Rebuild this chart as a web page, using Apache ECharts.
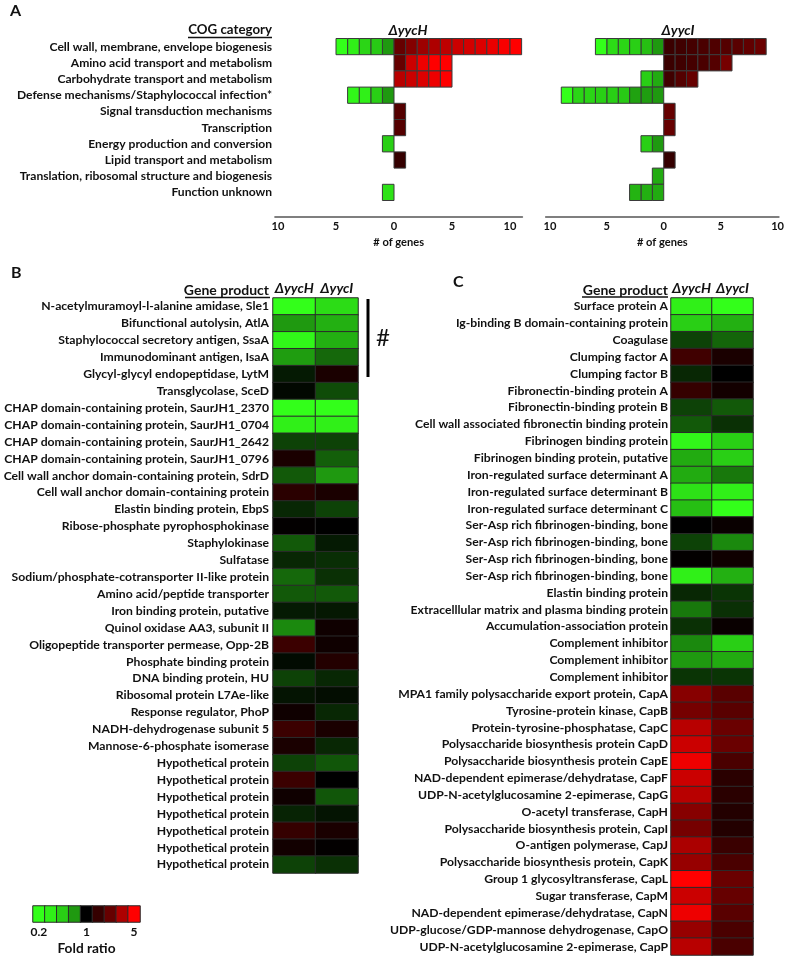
<!DOCTYPE html>
<html>
<head>
<meta charset="utf-8">
<script src="https://cdn.jsdelivr.net/npm/echarts@6/dist/echarts.min.js"></script>
<style>html,body{margin:0;padding:0;background:#fff;}#c{width:787px;height:957px;}</style>
</head>
<body>
<div id="c"></div>
<script>
// ---------- Panel A: COG categories ----------
const cogCategories = [
  'Cell wall, membrane, envelope biogenesis',
  'Amino acid transport and metabolism',
  'Carbohydrate transport and metabolism',
  'Defense mechanisms/Staphylococcal infection*',
  'Signal transduction mechanisms',
  'Transcription',
  'Energy production and conversion',
  'Lipid transport and metabolism',
  'Translation, ribosomal structure and biogenesis',
  'Function unknown'
];
// fold ratio of each gene, ordered from 0 outward
const yycH_down = [[0.38,0.28,0.26,0.22,0.2],[],[],[0.38,0.27,0.22,0.21],[],[],[0.27],[],[],[0.24]];
const yycH_up = [[1.9,2.3,2.7,3.0,3.3,3.6,3.8,4.0,4.4,4.8,5],[1.9,3.6,4.5,5,5],[3.2,3.6,4.0,4.5,5],[],[1.7],[1.7],[],[1.4],[],[]];
const yycI_down = [[0.38,0.3,0.27,0.26,0.25,0.2],[],[0.34,0.27],[0.38,0.37,0.36,0.28,0.27,0.27,0.26,0.26,0.2],[],[],[0.38,0.27],[],[0.34],[0.34,0.33,0.32]];
const yycI_up = [[1.45,1.5,1.55,1.6,1.65,1.7,1.75,1.85,1.95],[1.45,1.5,1.55,1.6,1.7,2.1],[1.5,1.7,1.9],[],[1.9],[1.9],[],[1.4],[],[]];
const geneTicks = [-10,-5,0,5,10];

// ---------- Panel B ----------
const geneB = [
  'N-acetylmuramoyl-l-alanine amidase, Sle1',
  'Bifunctional autolysin, AtlA',
  'Staphylococcal secretory antigen, SsaA',
  'Immunodominant antigen, IsaA',
  'Glycyl-glycyl endopeptidase, LytM',
  'Transglycolase, SceD',
  'CHAP domain-containing protein, SaurJH1_2370',
  'CHAP domain-containing protein, SaurJH1_0704',
  'CHAP domain-containing protein, SaurJH1_2642',
  'CHAP domain-containing protein, SaurJH1_0796',
  'Cell wall anchor domain-containing protein, SdrD',
  'Cell wall anchor domain-containing protein',
  'Elastin binding protein, EbpS',
  'Ribose-phosphate pyrophosphokinase',
  'Staphylokinase',
  'Sulfatase',
  'Sodium/phosphate-cotransporter II-like protein',
  'Amino acid/peptide transporter',
  'Iron binding protein, putative',
  'Quinol oxidase AA3, subunit II',
  'Oligopeptide transporter permease, Opp-2B',
  'Phosphate binding protein',
  'DNA binding protein, HU',
  'Ribosomal protein L7Ae-like',
  'Response regulator, PhoP',
  'NADH-dehydrogenase subunit 5',
  'Mannose-6-phosphate isomerase',
  'Hypothetical protein','Hypothetical protein','Hypothetical protein','Hypothetical protein',
  'Hypothetical protein','Hypothetical protein','Hypothetical protein'
];
const foldB_yycH = [0.2,0.38,0.21,0.37,0.85,0.95,0.2,0.22,0.66,1.18,0.57,1.3,0.78,1.02,0.57,0.78,0.52,0.57,0.85,0.42,1.45,0.93,0.66,0.88,1.1,1.45,1.18,0.66,1.45,1.1,0.8,1.4,1.12,0.66];
const foldB_yycI = [0.25,0.33,0.33,0.52,1.18,0.62,0.2,0.22,0.66,0.55,0.38,1.18,0.66,1.0,0.85,0.75,0.74,0.57,0.86,1.1,1.1,1.25,0.78,0.92,0.78,1.18,0.78,0.58,1.0,0.58,0.88,1.18,1.02,0.74];

// ---------- Panel C ----------
const geneC = [
  'Surface protein A',
  'Ig-binding B domain-containing protein',
  'Coagulase',
  'Clumping factor A',
  'Clumping factor B',
  'Fibronectin-binding protein A',
  'Fibronectin-binding protein B',
  'Cell wall associated fibronectin binding protein',
  'Fibrinogen binding protein',
  'Fibrinogen binding protein, putative',
  'Iron-regulated surface determinant A',
  'Iron-regulated surface determinant B',
  'Iron-regulated surface determinant C',
  'Ser-Asp rich fibrinogen-binding, bone',
  'Ser-Asp rich fibrinogen-binding, bone',
  'Ser-Asp rich fibrinogen-binding, bone',
  'Ser-Asp rich fibrinogen-binding, bone',
  'Elastin binding protein',
  'Extracelllular matrix and plasma binding protein',
  'Accumulation-association protein',
  'Complement inhibitor','Complement inhibitor','Complement inhibitor',
  'MPA1 family polysaccharide export protein, CapA',
  'Tyrosine-protein kinase, CapB',
  'Protein-tyrosine-phosphatase, CapC',
  'Polysaccharide biosynthesis protein CapD',
  'Polysaccharide biosynthesis protein CapE',
  'NAD-dependent epimerase/dehydratase, CapF',
  'UDP-N-acetylglucosamine 2-epimerase, CapG',
  'O-acetyl transferase, CapH',
  'Polysaccharide biosynthesis protein, CapI',
  'O-antigen polymerase, CapJ',
  'Polysaccharide biosynthesis protein, CapK',
  'Group 1 glycosyltransferase, CapL',
  'Sugar transferase, CapM',
  'NAD-dependent epimerase/dehydratase, CapN',
  'UDP-glucose/GDP-mannose dehydrogenase, CapO',
  'UDP-N-acetylglucosamine 2-epimerase, CapP'
];
const foldC_yycH = [0.22,0.27,0.66,1.5,0.78,1.4,0.66,0.57,0.21,0.34,0.34,0.24,0.3,1.0,0.66,1.02,0.22,0.78,0.47,0.74,0.42,0.38,0.72,2.35,2.1,3.2,3.6,4.5,3.6,3.2,2.35,2.1,2.95,2.6,5,3.6,4.5,2.6,3.2];
const foldC_yycI = [0.2,0.33,0.53,1.18,1.0,1.13,0.57,0.74,0.27,0.27,0.47,0.22,0.2,1.06,0.42,1.1,0.33,0.72,0.74,1.06,0.27,0.34,0.72,1.75,1.75,1.95,1.95,1.6,1.3,1.3,1.25,1.25,1.44,1.6,1.95,1.9,1.75,1.6,1.6];

// ---------- Colour legend ----------
const legendFolds = [0.2,0.22,0.27,0.38,1,1.4,1.9,3,5];
const legendLabels = ['0.2','','','','1','','','','5'];
const strains = ['ΔyycH','ΔyycI'];

// ---------- helpers: font sizes fitted to the widths of the original labels ----------
const FONT = 'Lato';
const TXT = '#111';
const mctx = document.createElement('canvas').getContext('2d');
function fitOne(text, target, style) {
  mctx.font = (style || 'bold') + ' 100px ' + FONT;
  return 100 * target / mctx.measureText(text).width;
}
function fitAvg(pairs, style) {
  let s = 0;
  pairs.forEach(p => { s += fitOne(p[0], p[1], style); });
  return Math.round(s / pairs.length * 10) / 10;
}
const fsB = fitAvg([
  ['Cell wall anchor domain-containing protein, SdrD', 265],
  ['N-acetylmuramoyl-l-alanine amidase, Sle1', 229],
  ['Sodium/phosphate-cotransporter II-like protein', 259],
  ['Hypothetical protein', 111],
  ['Elastin binding protein, EbpS', 155]
]);
const fsC = fitAvg([
  ['Cell wall associated fibronectin binding protein', 255],
  ['Ig-binding B domain-containing protein', 213],
  ['Extracelllular matrix and plasma binding protein', 262],
  ['NAD-dependent epimerase/dehydratase, CapF', 255],
  ['Polysaccharide biosynthesis protein CapD', 226],
  ['Group 1 glycosyltransferase, CapL', 183],
  ['MPA1 family polysaccharide export protein, CapA', 270],
  ['UDP-glucose/GDP-mannose dehydrogenase, CapO', 273]
]);
const fsA = Math.min(
  fitAvg([
    ['Translation, ribosomal structure and biogenesis', 253],
    ['Cell wall, membrane, envelope biogenesis', 224],
    ['Amino acid transport and metabolism', 201],
    ['Carbohydrate transport and metabolism', 216],
    ['Signal transduction mechanisms', 171],
    ['Lipid transport and metabolism', 167],
    ['Function unknown', 99]
  ]),
  Math.floor(fitOne('Defense mechanisms/Staphylococcal infection*', 262) * 10) / 10
);
const fsHead = Math.round(fitOne('Gene product', 85) * 10) / 10;
const fsCog = Math.round(fitOne('COG category', 84) * 10) / 10;
const fsStrain = Math.round(fitOne('ΔyycH', 39, 'italic bold') * 10) / 10;
const fsGenes = Math.round(fitOne('# of genes', 51) * 10) / 10;
const fsFold = Math.round(fitOne('Fold ratio', 58) * 10) / 10;

const L = Math.log2(5);
const lf = f => Math.max(-L, Math.min(L, Math.log2(f)));
function cogData(down, up) {
  const d = [];
  down.forEach((arr, row) => arr.forEach((f, k) => d.push([-(k + 1), row, lf(f)])));
  up.forEach((arr, row) => arr.forEach((f, k) => d.push([k, row, lf(f)])));
  return d;
}
function heatData(a, b) {
  const d = [];
  a.forEach((f, i) => d.push([0, i, lf(f)]));
  b.forEach((f, i) => d.push([1, i, lf(f)]));
  return d;
}
function renderSquare(params, api) {
  const x0 = api.value(0), row = api.value(1);
  const p0 = api.coord([x0, row]);
  const p1 = api.coord([x0 + 1, row]);
  const h = api.size([0, 1])[1];
  return {
    type: 'rect',
    shape: { x: p0[0], y: p0[1] - h / 2, width: p1[0] - p0[0], height: h },
    style: { fill: api.visual('color'), stroke: '#3a3a3a', lineWidth: 1 }
  };
}
const bold = (size) => ({ fontFamily: FONT, fontWeight: 'bold', fontSize: size, color: TXT });

function geneAxisX(min, max) {
  return {
    type: 'value', min: min, max: max, offset: 16,
    axisLine: { show: true, lineStyle: { color: '#7f7f7f', width: 2 } },
    axisTick: { show: false }, splitLine: { show: false },
    axisLabel: Object.assign({ customValues: geneTicks, margin: 4, formatter: v => String(Math.abs(v)) }, bold(fsGenes)),
    name: '# of genes', nameLocation: 'middle', nameGap: 20,
    nameTextStyle: bold(fsGenes)
  };
}
const strainAxisLabel = { interval: 0, fontFamily: FONT, fontWeight: 'bold', fontStyle: 'italic', fontSize: fsStrain, color: TXT, margin: 3 };

const chart = echarts.init(document.getElementById('c'), null, { renderer: 'canvas' });
chart.setOption({
  animation: false,
  textStyle: { fontFamily: FONT },
  visualMap: {
    type: 'continuous', show: false, dimension: 2,
    min: -L - 0.001, max: L + 0.001,
    seriesIndex: [0, 1, 2, 3, 4],
    inRange: { color: ['#33ff1a', '#000000', '#ff0000'] }
  },
  grid: [
    { left: 275.1, top: 38.5, width: 247.1, height: 162 },
    { left: 545.9, top: 38.5, width: 237.2, height: 162 },
    { left: 273, top: 298, width: 85, height: 575 },
    { left: 671, top: 298, width: 82, height: 657 },
    { left: 33, top: 906, width: 107, height: 16 }
  ],
  xAxis: [
    Object.assign({ gridIndex: 0 }, geneAxisX(-10.25, 11.05)),
    Object.assign({ gridIndex: 1 }, geneAxisX(-10.35, 10.1)),
    { gridIndex: 2, type: 'category', data: strains, position: 'top',
      axisLine: { show: false }, axisTick: { show: false }, axisLabel: strainAxisLabel },
    { gridIndex: 3, type: 'category', data: strains, position: 'top',
      axisLine: { show: false }, axisTick: { show: false }, axisLabel: strainAxisLabel },
    { gridIndex: 4, type: 'category', data: legendLabels, position: 'bottom',
      axisLine: { show: false }, axisTick: { show: false },
      axisLabel: Object.assign({ interval: 0, margin: 4 }, bold(12)),
      name: 'Fold ratio', nameLocation: 'middle', nameGap: 20,
      nameTextStyle: bold(fsFold) }
  ],
  yAxis: [
    { gridIndex: 0, type: 'category', data: cogCategories, inverse: true,
      axisLine: { show: false }, axisTick: { show: false },
      axisLabel: Object.assign({ interval: 0, margin: 3 }, bold(fsA)) },
    { gridIndex: 1, type: 'category', data: cogCategories, inverse: true,
      axisLine: { show: false }, axisTick: { show: false }, axisLabel: { show: false } },
    { gridIndex: 2, type: 'category', data: geneB, inverse: true,
      axisLine: { show: false }, axisTick: { show: false },
      axisLabel: Object.assign({ interval: 0, margin: 4 }, bold(fsB)) },
    { gridIndex: 3, type: 'category', data: geneC, inverse: true,
      axisLine: { show: false }, axisTick: { show: false },
      axisLabel: Object.assign({ interval: 0, margin: 3 }, bold(fsC)) },
    { gridIndex: 4, type: 'category', data: [''], show: false }
  ],
  series: [
    { type: 'custom', xAxisIndex: 0, yAxisIndex: 0, encode: { x: 0, y: 1 },
      renderItem: renderSquare, data: cogData(yycH_down, yycH_up) },
    { type: 'custom', xAxisIndex: 1, yAxisIndex: 1, encode: { x: 0, y: 1 },
      renderItem: renderSquare, data: cogData(yycI_down, yycI_up) },
    { type: 'heatmap', xAxisIndex: 2, yAxisIndex: 2, data: heatData(foldB_yycH, foldB_yycI),
      itemStyle: { borderColor: '#2b2b2b', borderWidth: 1 }, emphasis: { disabled: true } },
    { type: 'heatmap', xAxisIndex: 3, yAxisIndex: 3, data: heatData(foldC_yycH, foldC_yycI),
      itemStyle: { borderColor: '#2b2b2b', borderWidth: 1 }, emphasis: { disabled: true } },
    { type: 'heatmap', xAxisIndex: 4, yAxisIndex: 4, data: legendFolds.map((f, i) => [i, 0, lf(f)]),
      itemStyle: { borderColor: '#2b2b2b', borderWidth: 1 }, emphasis: { disabled: true } }
  ],
  graphic: [
    { type: 'text', x: 10, y: 3, style: { text: 'A', font: 'bold 16px Lato', fill: TXT } },
    { type: 'text', x: 11, y: 265, style: { text: 'B', font: 'bold 16px Lato', fill: TXT } },
    { type: 'text', x: 453, y: 274, style: { text: 'C', font: 'bold 16px Lato', fill: TXT } },
    { type: 'text', x: 272, y: 30, style: { text: 'COG category', font: 'bold ' + fsCog + 'px Lato', fill: TXT, align: 'right', verticalAlign: 'middle' } },
    { type: 'line', shape: { x1: 188, y1: 37.5, x2: 272, y2: 37.5 }, style: { stroke: '#111', lineWidth: 1.5 } },
    { type: 'text', x: 408, y: 30, style: { text: 'ΔyycH', font: 'italic bold ' + fsStrain + 'px Lato', fill: TXT, align: 'center', verticalAlign: 'middle' } },
    { type: 'text', x: 678, y: 30, style: { text: 'ΔyycI', font: 'italic bold ' + fsStrain + 'px Lato', fill: TXT, align: 'center', verticalAlign: 'middle' } },
    { type: 'text', x: 269, y: 290, style: { text: 'Gene product', font: 'bold ' + fsHead + 'px Lato', fill: TXT, align: 'right', verticalAlign: 'middle' } },
    { type: 'line', shape: { x1: 185, y1: 297.5, x2: 270, y2: 297.5 }, style: { stroke: '#111', lineWidth: 1.5 } },
    { type: 'text', x: 668, y: 290, style: { text: 'Gene product', font: 'bold ' + fsHead + 'px Lato', fill: TXT, align: 'right', verticalAlign: 'middle' } },
    { type: 'line', shape: { x1: 582, y1: 297, x2: 668, y2: 297 }, style: { stroke: '#111', lineWidth: 1.5 } },
    { type: 'line', shape: { x1: 368, y1: 299, x2: 368, y2: 377 }, style: { stroke: '#000', lineWidth: 3 } },
    { type: 'text', x: 383, y: 338, style: { text: '#', font: '24px Lato', fill: TXT, align: 'center', verticalAlign: 'middle' } }
  ]
});
</script>
</body>
</html>
